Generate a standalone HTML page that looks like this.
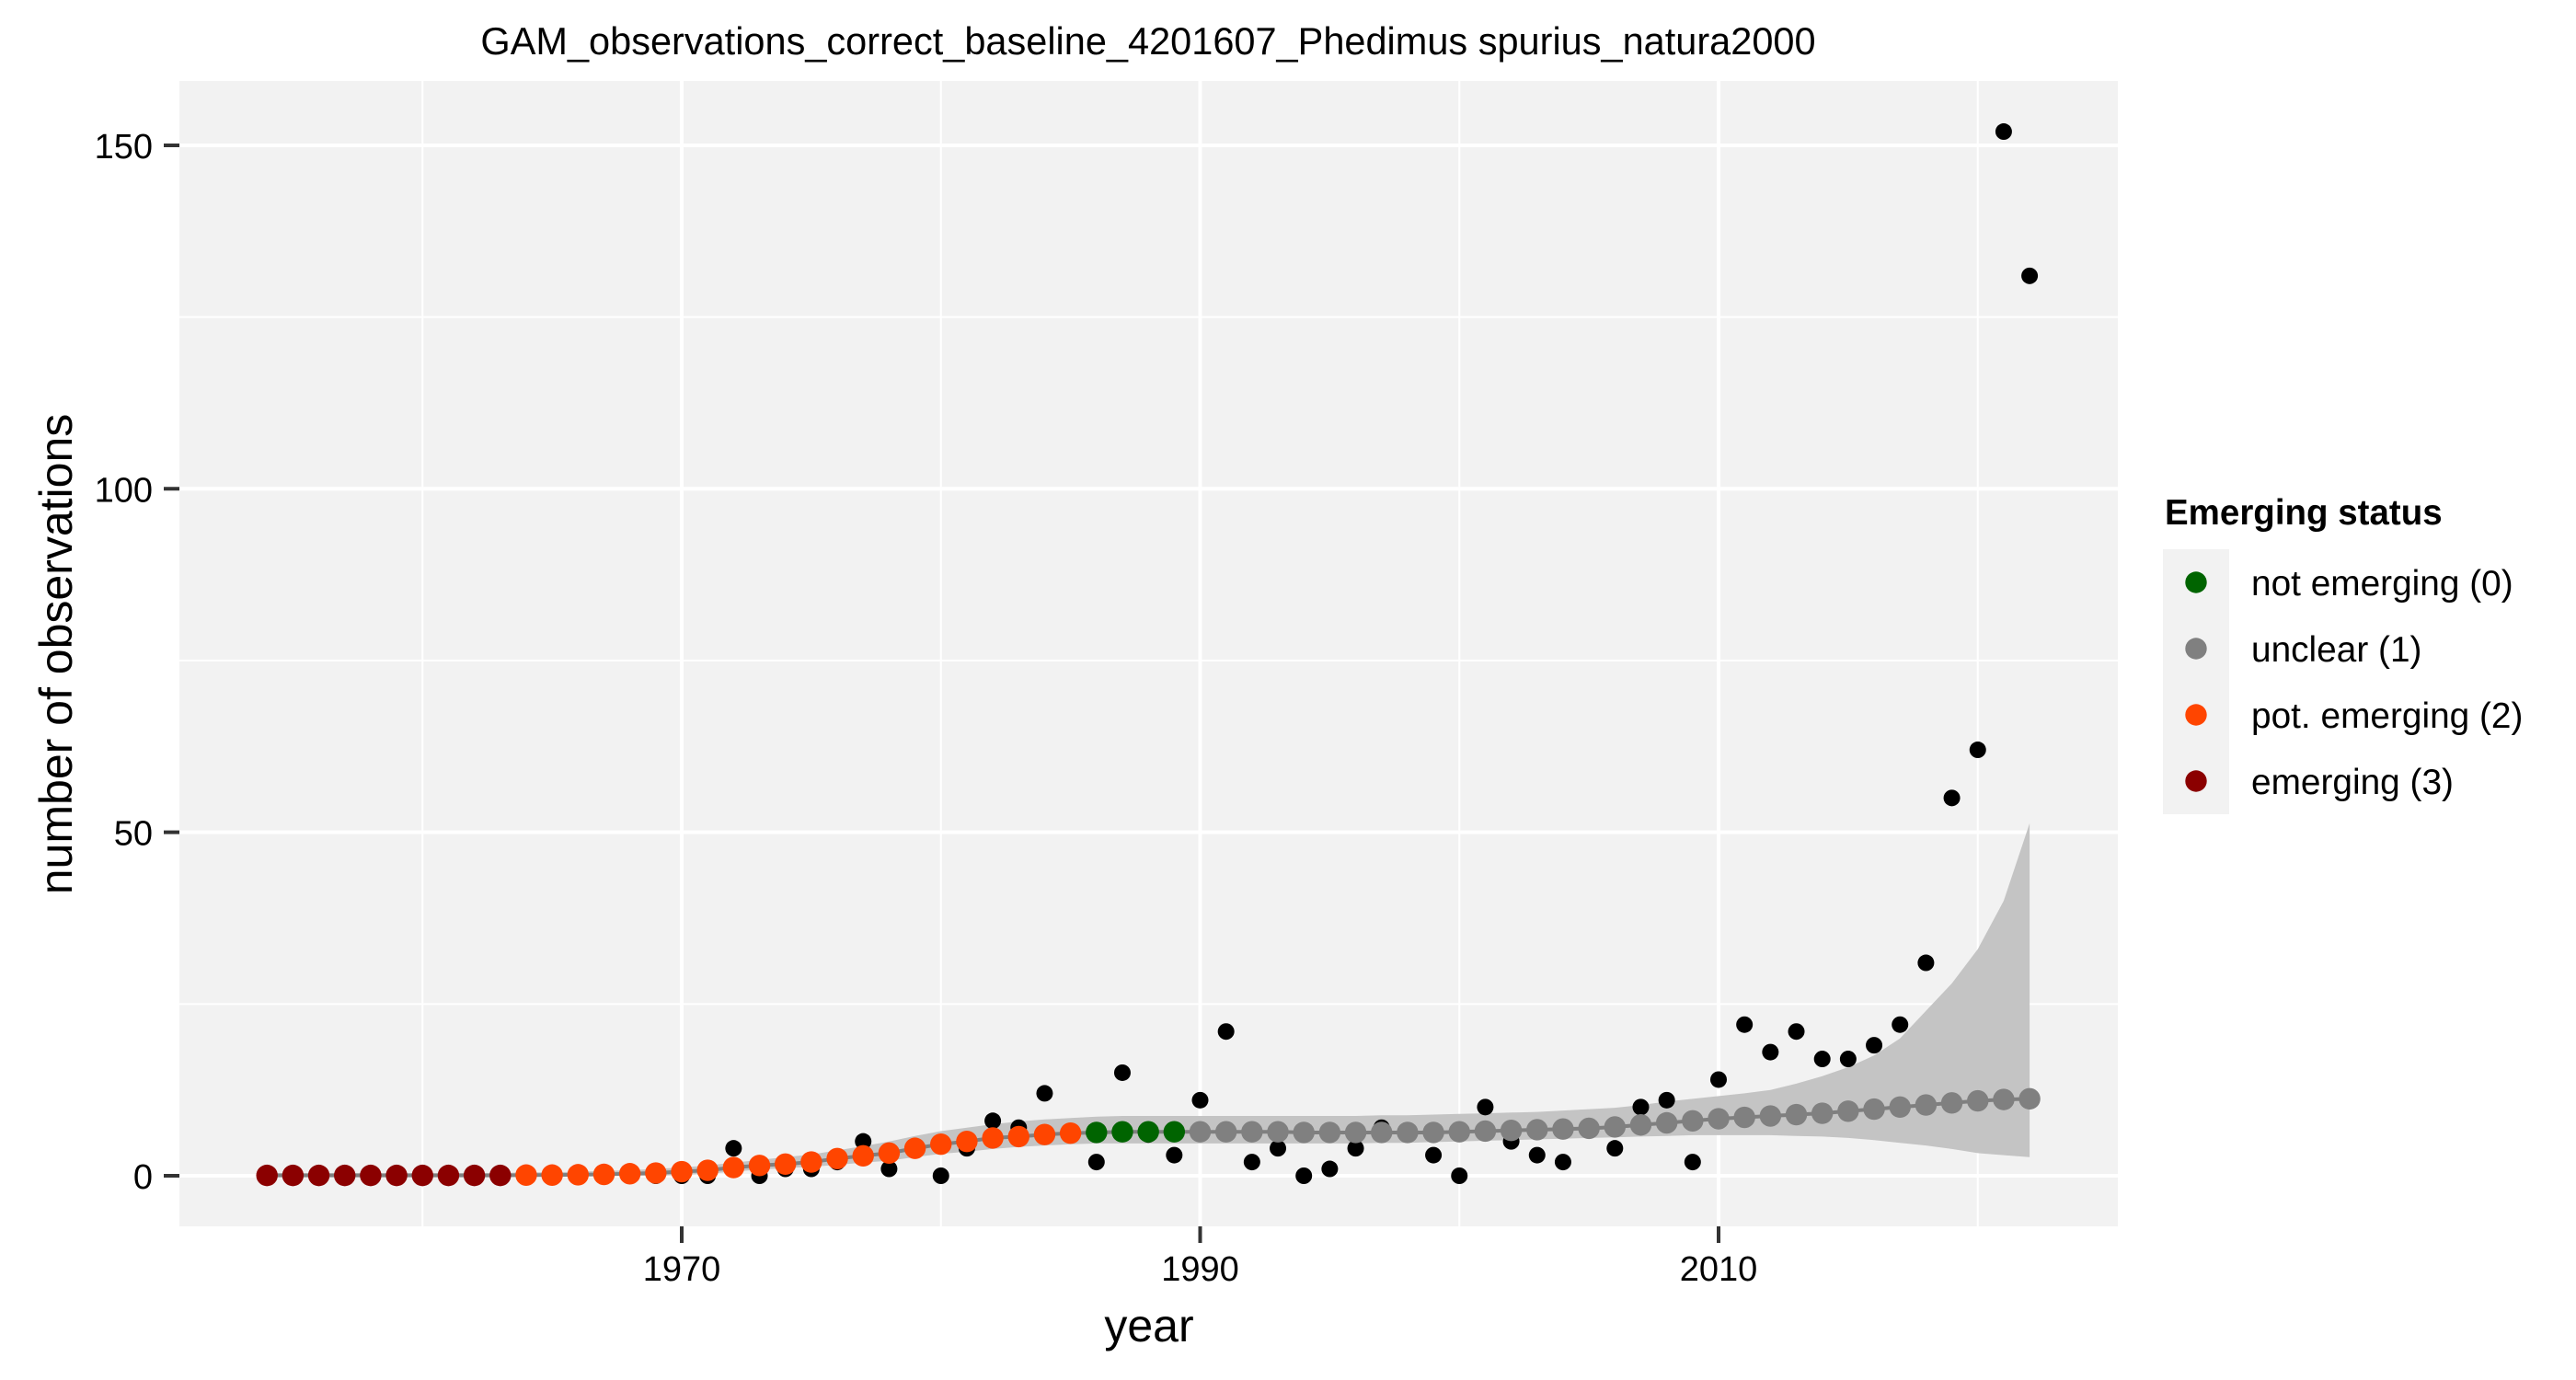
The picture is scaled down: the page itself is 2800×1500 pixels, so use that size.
<!DOCTYPE html>
<html><head><meta charset="utf-8"><style>
html,body{margin:0;padding:0;background:#fff;}
svg{display:block;font-family:"Liberation Sans",Arial,sans-serif;}
</style></head><body>
<svg id="chart" width="2800" height="1500" viewBox="0 0 2800 1500" xmlns="http://www.w3.org/2000/svg">
<rect x="0" y="0" width="2800" height="1500" fill="#ffffff"/>
<text x="1248" y="59" font-size="41.5" text-anchor="middle" fill="#000">GAM_observations_correct_baseline_4201607_Phedimus spurius_natura2000</text>
<rect x="195" y="88" width="2107" height="1245" fill="#f2f2f2"/>
<g id="grid"></g>
<g id="ribbon"></g>
<g id="obs"></g>
<g id="fit"></g>
<g id="axes"></g>
<text x="1249" y="1458" font-size="50" text-anchor="middle" fill="#000">year</text>
<text transform="translate(78,711) rotate(-90)" font-size="50" text-anchor="middle" fill="#000">number of observations</text>
<g>
<text x="2353" y="570" font-size="38.5" font-weight="bold" fill="#000">Emerging status</text>
<rect x="2351" y="597" width="72" height="288" fill="#f2f2f2"/>
<g><circle cx="2387" cy="633" r="11.7" fill="#006400"/><text x="2447" y="647" font-size="38.8">not emerging (0)</text></g>
<g><circle cx="2387" cy="705" r="11.7" fill="#808080"/><text x="2447" y="719" font-size="38.8">unclear (1)</text></g>
<g><circle cx="2387" cy="777" r="11.7" fill="#ff4500"/><text x="2447" y="791" font-size="38.8">pot. emerging (2)</text></g>
<g><circle cx="2387" cy="849" r="11.7" fill="#8b0000"/><text x="2447" y="863" font-size="38.8">emerging (3)</text></g>
</g>
</svg>
<script>
const years = [];
for (let y = 1954; y <= 2022; y++) years.push(y);
const observed = [0,0,0,0,0,0,0,0,0,0, 0,0,0,0,0,0, 0,0,4,0,1,1,2,5,1,4, 0,4,8,7,12,6,2,15,6,3, 11,21,2,4,0,1,4,7,6,3, 0,10,5,3,2,7,4,10,11,2, 14,22,18,21,17,17,19,22,31,55,62,152,131];
const fitted = [0.05,0.05,0.05,0.05,0.05,0.05,0.05,0.05,0.05,0.05, 0.1,0.1,0.15,0.2,0.3,0.4, 0.6,0.8,1.2,1.5,1.7,2.0,2.5,2.9,3.3,4.0, 4.6,5.0,5.5,5.7,6.0,6.2,6.3,6.4,6.4,6.4, 6.4,6.4,6.4,6.4,6.3,6.3,6.3,6.3,6.3,6.3, 6.4,6.5,6.6,6.7,6.8,6.9,7.1,7.4,7.7,8.0, 8.3,8.5,8.7,8.9,9.1,9.4,9.7,10.0,10.3,10.6,10.9,11.1,11.2];
const upper = [0.4,0.4,0.4,0.4,0.4,0.4,0.4,0.4,0.4,0.4, 0.5,0.5,0.6,0.7,0.8,1.0, 1.2,1.5,1.9,2.3,2.7,3.1,3.7,4.3,5.0,5.8, 6.5,7.0,7.5,7.9,8.2,8.4,8.6,8.7,8.7,8.7, 8.7,8.7,8.7,8.7,8.7,8.7,8.7,8.8,8.8,8.9, 9.0,9.1,9.2,9.3,9.5,9.7,9.9,10.3,10.8,11.2, 11.6,12.0,12.5,13.4,14.5,15.8,17.5,20,24,28,33,40,51.3];
const lower = [0,0,0,0,0,0,0,0,0,0, 0,0,0,0,0,0, 0.1,0.3,0.6,0.9,1.1,1.3,1.6,1.9,2.2,2.7, 3.2,3.5,3.9,4.2,4.4,4.6,4.7,4.7,4.7,4.7, 4.7,4.7,4.7,4.7,4.7,4.7,4.7,4.8,4.8,4.9, 5.0,5.1,5.2,5.3,5.4,5.5,5.6,5.7,5.8,5.9, 5.9,5.9,5.9,5.8,5.7,5.5,5.2,4.8,4.4,3.9,3.3,3.0,2.7];
const status = years.map(y => y <= 1963 ? 3 : y <= 1985 ? 2 : y <= 1989 ? 0 : 1);
const statusNames = ['not-emerging','unclear','pot-emerging','emerging'];
const statusColors = ['#006400','#808080','#ff4500','#8b0000'];
const yTicks = [0,50,100,150];
const yMinor = [25,75,125];
const xTicks = [1970,1990,2010];
const xMinor = [1960,1980,2000,2020];

const NS = 'http://www.w3.org/2000/svg';
const px = v => 741 + (v - 1970) * 28.175;
const py = v => 1278 - v * 7.467;
const P = {l:195, r:2302, t:88, b:1333};
function mk(tag, attrs, parent){ const e = document.createElementNS(NS, tag); for (const k in attrs) e.setAttribute(k, attrs[k]); parent.appendChild(e); return e; }

const grid = document.getElementById('grid');
yMinor.forEach(v => { const e = mk('line',{x1:P.l,x2:P.r,y1:py(v),y2:py(v),stroke:'#fff','stroke-width':2},grid);
  
   });
xMinor.forEach(v => { const e = mk('line',{x1:px(v),x2:px(v),y1:P.t,y2:P.b,stroke:'#fff','stroke-width':2},grid);
  
   });
yTicks.forEach(v => { const e = mk('line',{x1:P.l,x2:P.r,y1:py(v),y2:py(v),stroke:'#fff','stroke-width':4},grid);
  
   });
xTicks.forEach(v => { const e = mk('line',{x1:px(v),x2:px(v),y1:P.t,y2:P.b,stroke:'#fff','stroke-width':4},grid);
  
   });

const rib = document.getElementById('ribbon');
let d = '';
years.forEach((y,i) => { d += (i ? 'L' : 'M') + px(y).toFixed(1) + ',' + py(upper[i]).toFixed(1); });
for (let i = years.length - 1; i >= 0; i--) d += 'L' + px(years[i]).toFixed(1) + ',' + py(lower[i]).toFixed(1);
const band = mk('path',{d:d+'Z',fill:'#c4c4c4'},rib);


let ld = '';
years.forEach((y,i) => { ld += (i ? 'L' : 'M') + px(y).toFixed(1) + ',' + py(fitted[i]).toFixed(1); });
const fl = mk('path',{d:ld,fill:'none',stroke:'#7f7f7f','stroke-width':4},rib);



const og = document.getElementById('obs');
years.forEach((y,i) => { const c = mk('circle',{cx:px(y),cy:py(observed[i]),r:9,fill:'#000'},og);
  
   });

const fg = document.getElementById('fit');
years.forEach((y,i) => { const c = mk('circle',{cx:px(y),cy:py(fitted[i]),r:11.7,fill:statusColors[status[i]]},fg);
  
   });

const ax = document.getElementById('axes');
yTicks.forEach(v => {
  const t = mk('line',{x1:178,x2:195,y1:py(v),y2:py(v),stroke:'#333','stroke-width':4},ax);
  
  
  const l = mk('text',{x:166,y:py(v)+14,'font-size':38,'text-anchor':'end',fill:'#000'},ax);
  l.textContent = String(v);
  
  
});
xTicks.forEach(v => {
  const t = mk('line',{x1:px(v),x2:px(v),y1:1333,y2:1351,stroke:'#333','stroke-width':4},ax);
  
  
  const l = mk('text',{x:px(v),y:1392,'font-size':38,'text-anchor':'middle',fill:'#000'},ax);
  l.textContent = String(v);
  
  
});
</script>
</body></html>
